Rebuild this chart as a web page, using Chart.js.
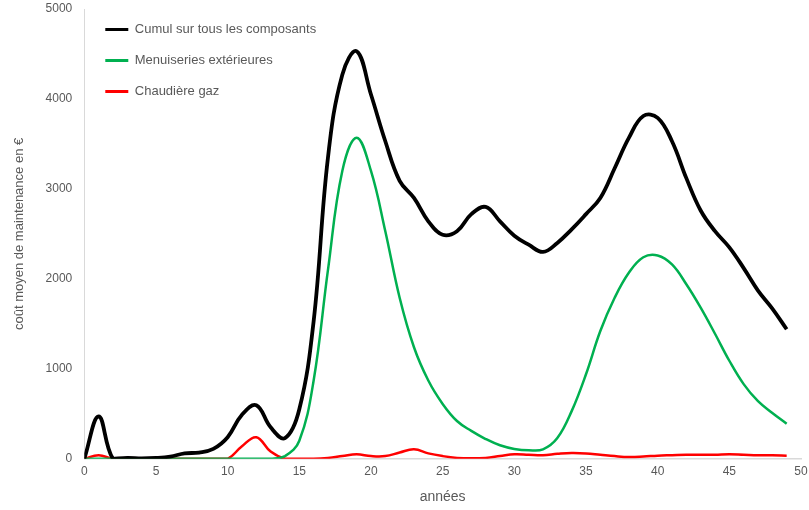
<!DOCTYPE html>
<html lang="fr">
<head>
<meta charset="UTF-8">
<title>Coût moyen de maintenance</title>
<script src="https://cdn.jsdelivr.net/npm/chart.js"></script>
<style>
  body { margin: 0; background: #fff; }
  .wrap { width: 809px; height: 510px; }
</style>
</head>
<body>
<div class="wrap"><canvas id="chart" width="809" height="510"></canvas></div>
<script>
// années 0..49
const years = [0,1,2,3,4,5,6,7,8,9,10,11,12,13,14,15,16,17,18,19,20,21,22,23,24,25,26,27,28,29,30,31,32,33,34,35,36,37,38,39,40,41,42,43,44,45,46,47,48,49];

const cumul = [0,470,0,10,5,10,25,60,70,110,240,490,595,350,230,550,1530,3350,4270,4530,4050,3530,3090,2900,2640,2490,2530,2720,2800,2640,2480,2380,2300,2400,2550,2720,2900,3230,3570,3810,3790,3530,3120,2760,2530,2350,2120,1870,1670,1440];

const menuiseries = [0,0,0,0,0,0,0,0,0,0,0,0,0,0,30,200,870,2100,3200,3570,3200,2530,1790,1240,870,610,420,310,220,150,110,95,105,230,530,940,1420,1790,2070,2240,2260,2160,1940,1680,1390,1090,830,640,510,390];

const chaudiere = [0,40,0,0,0,0,0,0,0,0,0,140,240,80,0,0,0,10,30,50,30,30,70,105,60,30,10,5,10,30,50,45,40,55,65,60,45,30,20,25,35,40,45,45,45,50,45,40,40,35];

const xTicks = [0,5,10,15,20,25,30,35,40,45,50];
const yTicks = [0,1000,2000,3000,4000,5000];

const pts = arr => arr.map((v, i) => ({ x: years[i], y: v }));
const textColor = '#595959';
const fontFam = "'Liberation Sans', Arial, sans-serif";

// nudge the in-plot legend to where the original has it
const legendNudge = {
  id: 'legendNudge',
  afterLayout(chart) {
    chart.legend.left += 3;
    chart.legend.top += 5;
  }
};

new Chart(document.getElementById('chart').getContext('2d'), {
  type: 'line',
  data: {
    datasets: [
      { label: 'Cumul sur tous les composants', data: pts(cumul), borderColor: '#000000', backgroundColor: '#000000', borderWidth: 3.8, pointRadius: 0, tension: 0.4 },
      { label: 'Menuiseries extérieures', data: pts(menuiseries), borderColor: '#00b050', backgroundColor: '#00b050', borderWidth: 2.5, pointRadius: 0, tension: 0.4 },
      { label: 'Chaudière gaz', data: pts(chaudiere), borderColor: '#ff0000', backgroundColor: '#ff0000', borderWidth: 2.5, pointRadius: 0, tension: 0.4 }
    ]
  },
  plugins: [legendNudge],
  options: {
    responsive: false,
    animation: false,
    layout: { padding: { left: 8, right: 0, top: 9, bottom: 0 } },
    plugins: {
      tooltip: { enabled: false },
      legend: {
        position: 'chartArea',
        align: 'start',
        labels: {
          color: textColor,
          font: { family: fontFam, size: 13 },
          boxWidth: 23,
          boxHeight: 3,
          padding: 18,
          generateLabels: chart => chart.data.datasets.map((ds, i) => ({
            text: ds.label, fillStyle: ds.borderColor, strokeStyle: ds.borderColor,
            lineWidth: 0, fontColor: textColor, datasetIndex: i
          }))
        }
      }
    },
    scales: {
      x: {
        type: 'linear', min: 0, max: 50,
        afterBuildTicks: s => { s.ticks = xTicks.map(v => ({ value: v })); },
        afterFit: s => { s.paddingRight = 8; s.paddingLeft = 0; },
        grid: { display: false, drawTicks: false },
        border: { color: '#d9d9d9', width: 1.5 },
        ticks: { color: textColor, font: { family: fontFam, size: 12 }, padding: 6, maxRotation: 0, callback: v => String(v) },
        title: { display: true, text: 'années', color: textColor, font: { family: fontFam, size: 14 }, padding: { top: 4, bottom: 4 } }
      },
      y: {
        min: 0, max: 5000,
        afterBuildTicks: s => { s.ticks = yTicks.map(v => ({ value: v })); },
        afterFit: s => { s.paddingTop = 0; s.paddingBottom = 0; },
        grid: { display: false, drawTicks: false },
        border: { color: '#d9d9d9', width: 1 },
        ticks: { color: textColor, font: { family: fontFam, size: 12 }, padding: 12, callback: v => String(v) },
        title: { display: true, text: 'coût moyen de maintenance en €', color: textColor, font: { family: fontFam, size: 13 }, padding: { bottom: 6 } }
      }
    }
  }
});
</script>
</body>
</html>
